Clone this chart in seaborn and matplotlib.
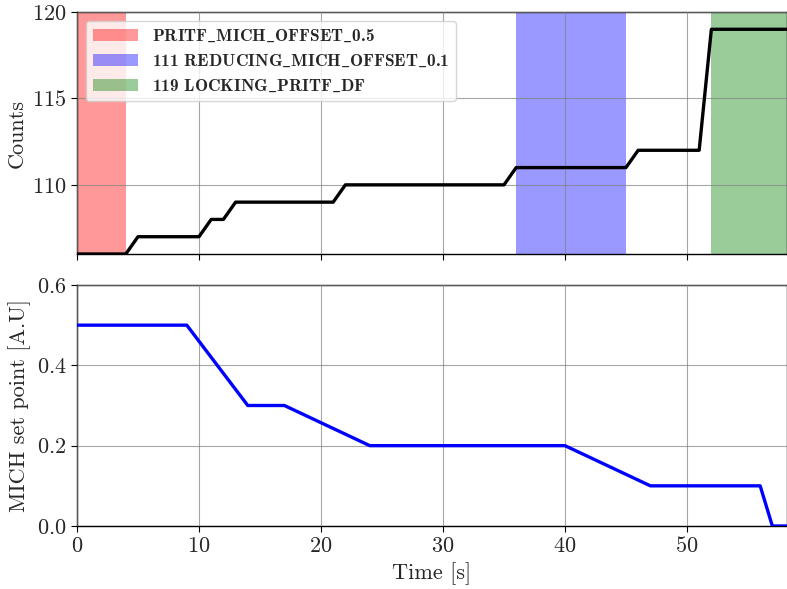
import numpy as np
import pandas as pd
import matplotlib
matplotlib.use("Agg")
import matplotlib.pyplot as plt
import seaborn as sns

# ---- data ----
count_time = [0, 4, 5, 10, 11, 12, 13, 21, 22, 35, 36, 45, 46, 51, 52, 58.2]
count_vals = [106, 106, 107, 107, 108, 108, 109, 109, 110, 110, 111, 111, 112, 112, 119, 119]

mich_time = [0, 9, 14, 17, 24, 40, 47, 56, 57, 58.2]
mich_vals = [0.5, 0.5, 0.3, 0.3, 0.2, 0.2, 0.1, 0.1, 0.0, 0.0]

span_labels = [r"PRITF$\_$MICH$\_$OFFSET$\_$0.5",
               r"111 REDUCING$\_$MICH$\_$OFFSET$\_$0.1",
               r"119 LOCKING$\_$PRITF$\_$DF"]
span_start = [0, 36, 52]
span_end = [4, 45, 58.2]
span_colors = ["red", "blue", "green"]

sns.set_theme(style="ticks")
plt.rcParams["font.family"] = "serif"
plt.rcParams["font.serif"] = ["cmr10", "DejaVu Serif"]
plt.rcParams["mathtext.fontset"] = "cm"
plt.rcParams["axes.formatter.use_mathtext"] = True
plt.rcParams["axes.unicode_minus"] = False

fig = plt.figure(figsize=(7.87, 5.89), dpi=100)
ax1 = fig.add_axes([77/787, 1-254/589, 1-77/787, 242/589])
ax2 = fig.add_axes([77/787, 1-526/589, 1-77/787, 241/589], sharex=ax1)

for ax in (ax1, ax2):
    ax.set_facecolor("white")
    for s in ax.spines.values():
        s.set_color("black")
        s.set_linewidth(1.0)
    ax.grid(True, color="gray", linewidth=0.8, alpha=0.7)
    ax.set_axisbelow(False)
    ax.tick_params(axis="both", labelsize=16, color="black", direction="out", length=4, width=0.8)

for lab, s0, s1, c in zip(span_labels, span_start, span_end, span_colors):
    ax1.axvspan(s0, s1, color=c, alpha=0.4, lw=0, label=lab, zorder=0)

df1 = pd.DataFrame({"t": count_time, "c": count_vals})
sns.lineplot(data=df1, x="t", y="c", ax=ax1, color="black", linewidth=2.4, zorder=3)
ax1.set_ylim(106, 120)
ax1.set_yticks([110, 115, 120])
ax1.set_ylabel("Counts", fontsize=16)
ax1.set_xlabel("")
plt.setp(ax1.get_xticklabels(), visible=False)
leg = ax1.legend(loc="upper left", prop={"family": "cmb10", "size": 12.5},
                 framealpha=0.8, handlelength=2.6)

df2 = pd.DataFrame({"t": mich_time, "m": mich_vals})
sns.lineplot(data=df2, x="t", y="m", ax=ax2, color="blue", linewidth=2.4, zorder=3)
ax2.set_ylim(0, 0.6)
ax2.set_yticks([0.0, 0.2, 0.4, 0.6])
ax2.set_xlim(0, 58.2)
ax2.set_xticks([0, 10, 20, 30, 40, 50])
ax2.set_ylabel("MICH set point [A.U]", fontsize=16)
ax2.set_xlabel("Time [s]", fontsize=16)

fig.savefig("out.png", dpi=100)
